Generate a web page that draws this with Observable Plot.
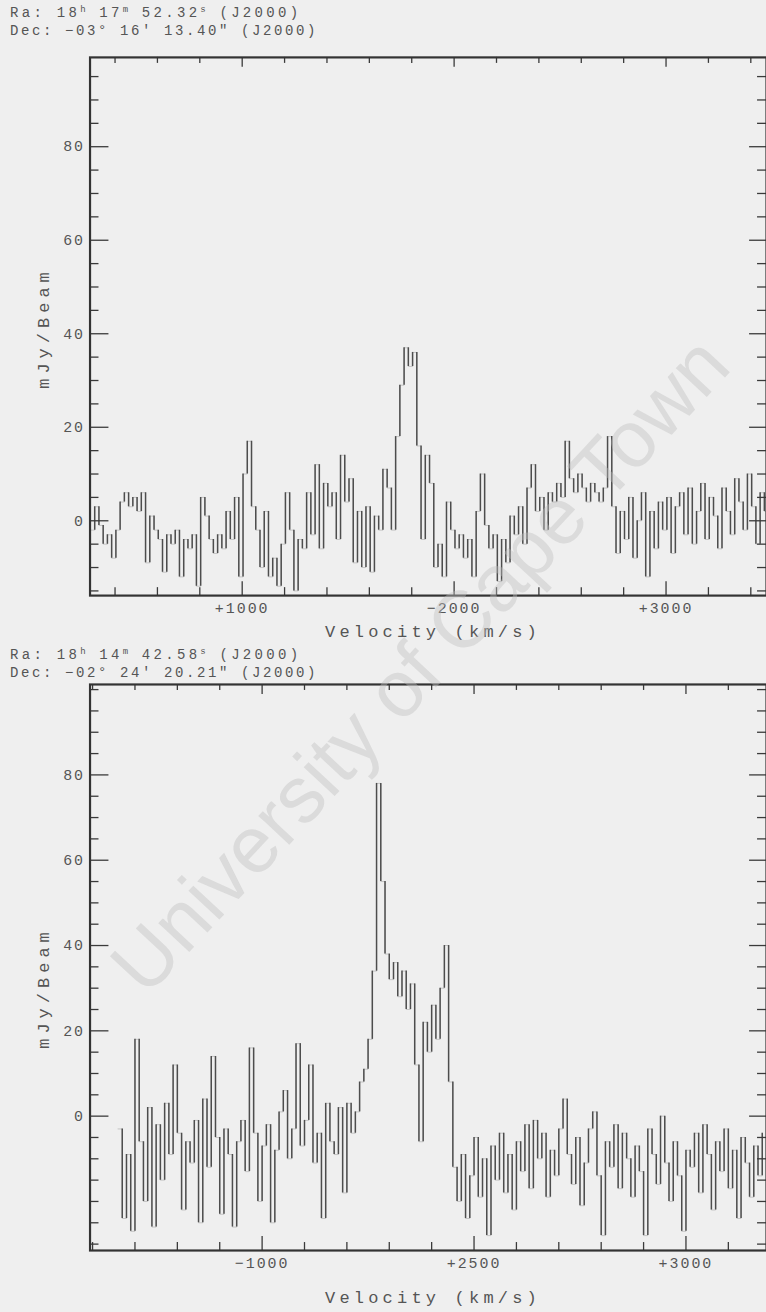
<!DOCTYPE html>
<html>
<head>
<meta charset="utf-8">
<script src="https://cdn.jsdelivr.net/npm/d3@7"></script>
<script src="https://cdn.jsdelivr.net/npm/@observablehq/plot@0.6"></script>
<style>
  html, body { margin: 0; padding: 0; }
  body { width: 766px; height: 1312px; overflow: hidden; position: relative; background: #efefef; }
  .t { position: absolute; font-family: "Liberation Mono", "DejaVu Sans Mono", monospace; color: #555; white-space: nowrap; }
  .coord { font-size: 14px; left: 10px; line-height: 16px; height: 16px; }
  .ra { letter-spacing: 3.3px; }
  .dec { letter-spacing: 2.6px; }
  .coord .sp { position: relative; top: -5px; font-size: 9px; letter-spacing: 2px; }
  .xl { font-size: 17px; letter-spacing: 4.2px; line-height: 20px; transform: translate(-50%, -50%); }
  .yl { font-size: 17px; letter-spacing: 5px; line-height: 20px; transform: translate(-50%, -50%) rotate(-90deg); }
  .plot { position: absolute; left: 0; }
  .plot svg text { letter-spacing: 2px; }
  .wm { position: absolute; font-family: "Liberation Sans", Arial, sans-serif; font-size: 80px; color: rgba(190,190,190,0.42); white-space: nowrap; transform: translate(-50%, -50%) rotate(-47deg); pointer-events: none; }
</style>
</head>
<body>
<div class="t coord ra" style="top:5px">Ra: 18<span class="sp">h</span> 17<span class="sp">m</span> 52.32<span class="sp">s</span> (J2000)</div>
<div class="t coord dec" style="top:23px">Dec: −03° 16′ 13.40″ (J2000)</div>
<div id="p1" class="plot" style="top:40px"></div>
<div class="t xl" style="left:433px; top:633px">Velocity (km/s)</div>
<div class="t yl" style="left:45px; top:328px">mJy/Beam</div>

<div class="t coord ra" style="top:647px">Ra: 18<span class="sp">h</span> 14<span class="sp">m</span> 42.58<span class="sp">s</span> (J2000)</div>
<div class="t coord dec" style="top:665px">Dec: −02° 24′ 20.21″ (J2000)</div>
<div id="p2" class="plot" style="top:680px"></div>
<div class="t xl" style="left:433px; top:1299px">Velocity (km/s)</div>
<div class="t yl" style="left:45px; top:988px">mJy/Beam</div>

<div class="wm" style="left:420px; top:665px">University of Cape Town</div>

<script>
// ---------- data ----------
// Spectrum 1 (Ra 18h17m52.32s): flux density (mJy/beam) per 10 km/s channel
const spec1Start = 1142;
const spec1Step = 10;
const spec1Flux = [
  -2, 3, -1, -5, -3, -8, -2, 4, 6, 3,
  5, 2, 6, -9, 1, -2, -4, -11, -3, -5,
  -2, -12, -4, -6, -3, -14, 5, 1, -4, -7,
  -3, -6, 2, -4, 5, -12, 10, 17, 3, -2,
  -10, 2, -12, -8, -14, -5, 6, -2, -15, -4,
  -6, 6, -3, 12, -6, 8, 3, 6, -4, 14,
  4, 9, -9, 2, -10, 3, -11, 1, -2, 11,
  7, -2, 18, 29, 37, 33, 36, 16, -4, 14,
  8, -10, -5, -12, 4, -2, -6, -3, -8, -4,
  -12, 2, 10, -1, -6, -3, -13, -4, -9, 1,
  -3, 3, -5, 7, 12, 2, 5, -2, 6, 4,
  8, 5, 17, 9, 6, 10, 7, 4, 8, 6,
  4, 7, 18, 3, -7, 2, -4, 5, -8, 0,
  6, -12, 2, -6, 4, -2, 5, -7, 3, 6,
  -3, 7, -5, 2, 8, -4, 5, 1, -6, 7,
  2, -3, 9, 4, -2, 10, 3, -5, 6, 2,
  4
];

// Spectrum 2 (Ra 18h14m42.58s): flux density (mJy/beam) per 10 km/s channel
const spec2Start = 1160;
const spec2Step = 10;
const spec2Flux = [
  -3, -24, -9, -27, 18, -6, -20, 2, -26, -2,
  -15, 3, -9, 12, -4, -22, -6, -11, -1, -25,
  4, -12, 14, -5, -23, -3, -9, -26, -6, -1,
  -13, 16, -4, -20, -7, -2, -25, -8, 1, 6,
  -10, -3, 17, -7, -1, 12, -11, -4, -24, 3,
  -6, -9, 2, -18, 3, -4, 1, 8, 11, 18,
  34, 78, 55, 38, 32, 36, 28, 34, 25, 31,
  12, -6, 22, 15, 26, 18, 30, 40, 8, -12,
  -20, -9, -24, -14, -5, -19, -10, -28, -7, -15,
  -4, -18, -9, -22, -6, -13, -2, -17, -1, -10,
  -4, -19, -8, -14, -3, 4, -9, -16, -5, -21,
  -11, -3, 1, -14, -28, -6, -12, -2, -17, -4,
  -10, -19, -7, -13, -28, -3, -9, -16, 0, -11,
  -20, -6, -14, -27, -8, -12, -4, -18, -2, -9,
  -22, -6, -13, -3, -17, -8, -24, -5, -11, -19,
  -7, -14, -4
];

// axis ticks and labels
const yTickValues = [0, 20, 40, 60, 80];
const yMinorValues = [-30, -25, -20, -15, -10, -5, 5, 10, 15, 25, 30, 35, 45, 50, 55, 65, 70, 75, 85, 90, 95, 100];
const xTickValues = [1500, 2000, 2500];
const xMinorValues = [1100, 1200, 1300, 1400, 1600, 1700, 1800, 1900, 2100, 2200, 2300, 2400, 2600, 2700];
const xTickLabels1 = ["+1000", "−2000", "+3000"];
const xTickLabels2 = ["−1000", "+2500", "+3000"];

// ---------- drawing ----------
function panel({flux, start, step, xDomain, yDomain, height, marginTop, marginBottom, xLabels}) {
  const width = 770, marginLeft = 90, marginRight = 0;
  const rows = flux.map((y, i) => ({v: start + i * step, y, prev: i ? flux[i - 1] : y}));
  const inX = (d) => d > xDomain[0] && d < xDomain[1];
  const inY = (d) => d > yDomain[0] && d < yDomain[1];
  const labelMap = new Map(xTickValues.map((d, i) => [d, xLabels[i]]));
  // tick lengths in px converted to data units
  const kx = (xDomain[1] - xDomain[0]) / (width - marginLeft - marginRight);
  const ky = (yDomain[1] - yDomain[0]) / (height - marginTop - marginBottom);
  const tk = {stroke: "#3a3a3a", strokeWidth: 1.3};
  const yMaj = yTickValues.filter(inY), yMin = yMinorValues.filter(inY);
  const xMaj = xTickValues.filter(inX), xMin = xMinorValues.filter(inX);
  return Plot.plot({
    width, height, marginLeft, marginRight, marginTop, marginBottom,
    x: {domain: xDomain},
    y: {domain: yDomain},
    style: {background: "transparent", fontFamily: "Liberation Mono, DejaVu Sans Mono, monospace", fontSize: "15px", color: "#555"},
    marks: [
      Plot.line(rows, {x: "v", y: "y", curve: "step-after", stroke: "#a8a8a8", strokeWidth: 0.6, clip: true}),
      Plot.ruleX(rows, {x: "v", y1: "prev", y2: "y", stroke: "#4d4d4d", strokeWidth: 1.5, clip: true}),
      Plot.ruleY(yMaj, {x1: xDomain[0], x2: xDomain[0] + 19 * kx, ...tk}),
      Plot.ruleY(yMin, {x1: xDomain[0], x2: xDomain[0] + 9 * kx, ...tk}),
      Plot.ruleY(yMaj, {x1: xDomain[1] - 17 * kx, x2: xDomain[1], ...tk}),
      Plot.ruleY(yMin, {x1: xDomain[1] - 9 * kx, x2: xDomain[1], ...tk}),
      Plot.ruleX(xMaj, {y1: yDomain[0], y2: yDomain[0] + 14 * ky, ...tk}),
      Plot.ruleX(xMin, {y1: yDomain[0], y2: yDomain[0] + 8 * ky, ...tk}),
      Plot.ruleX(xMaj, {y1: yDomain[1] - 10 * ky, y2: yDomain[1], ...tk}),
      Plot.ruleX(xMin, {y1: yDomain[1] - 6 * ky, y2: yDomain[1], ...tk}),
      Plot.axisY(yTickValues, {anchor: "left", tickSize: 0, tickPadding: 5, label: null, fill: "#555"}),
      Plot.axisX(xTickValues, {anchor: "bottom", tickSize: 0, tickPadding: 7, tickFormat: (d) => labelMap.get(d), label: null, fill: "#555"}),
      Plot.frame({stroke: "#333", strokeWidth: 2.2})
    ]
  });
}

document.getElementById("p1").append(panel({
  flux: spec1Flux, start: spec1Start, step: spec1Step,
  xDomain: [1141, 2737], yDomain: [-16, 99.1],
  height: 600, marginTop: 17, marginBottom: 42, xLabels: xTickLabels1
}));

document.getElementById("p2").append(panel({
  flux: spec2Flux, start: spec2Start, step: spec2Step,
  xDomain: [1094, 2690], yDomain: [-31.5, 101.2],
  height: 632, marginTop: 4, marginBottom: 59, xLabels: xTickLabels2
}));
</script>
</body>
</html>
